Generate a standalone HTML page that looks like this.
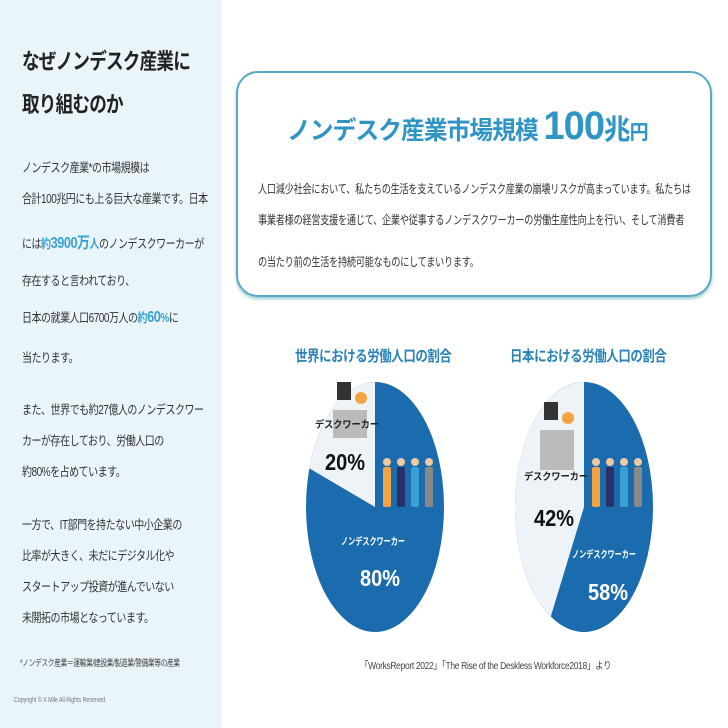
<!DOCTYPE html>
<html><head><meta charset="utf-8">
<style>
body{margin:0;width:728px;height:728px;overflow:hidden;background:#fff;font-family:"Liberation Sans","Noto Sans CJK JP",sans-serif;position:relative}
.abs{position:absolute;white-space:nowrap;transform-origin:0 0}
#left{position:absolute;left:0;top:0;width:222px;height:728px;background:#e9f4fb}
.h1{font-size:22px;font-weight:bold;color:#222;letter-spacing:-1px;transform:scaleX(0.8)}
.p{font-size:12.5px;color:#333;letter-spacing:-0.6px;transform:scaleX(0.8)}
.cp{font-size:12px;color:#333;letter-spacing:-0.3px;transform:scaleX(0.76)}
.hl{color:#3aa2d2;font-weight:bold}
#box{position:absolute;left:236px;top:71px;width:472px;height:222px;border:2px solid #5aa7c6;border-radius:22px;box-shadow:0 2px 3px #9cc}
</style></head><body>
<div id="left"></div>
<div class="abs h1" style="left:22px;top:44px">なぜノンデスク産業に</div>
<div class="abs h1" style="left:22px;top:87px">取り組むのか</div>
<div class="abs p" style="left:22px;top:157px">ノンデスク産業*の市場規模は</div>
<div class="abs p" style="left:22px;top:188px">合計100兆円にも上る巨大な産業です。日本</div>
<div class="abs p" style="left:22px;top:229px">には<span class="hl">約<span style="font-size:16px">3900万</span>人</span>のノンデスクワーカーが</div>
<div class="abs p" style="left:22px;top:270px">存在すると言われており、</div>
<div class="abs p" style="left:22px;top:307px">日本の就業人口6700万人の<span class="hl">約<span style="font-size:16px">60</span>%</span>に</div>
<div class="abs p" style="left:22px;top:347px">当たります。</div>
<div class="abs p" style="left:22px;top:399px">また、世界でも約27億人のノンデスクワー</div>
<div class="abs p" style="left:22px;top:430px">カーが存在しており、労働人口の</div>
<div class="abs p" style="left:22px;top:461px">約80%を占めています。</div>
<div class="abs p" style="left:22px;top:514px">一方で、IT部門を持たない中小企業の</div>
<div class="abs p" style="left:22px;top:545px">比率が大きく、未だにデジタル化や</div>
<div class="abs p" style="left:22px;top:576px">スタートアップ投資が進んでいない</div>
<div class="abs p" style="left:22px;top:607px">未開拓の市場となっています。</div>
<div class="abs" style="left:20px;top:656px;font-size:9px;color:#444;letter-spacing:-0.5px;transform:scaleX(0.75)">*ノンデスク産業＝運輸業/建設業/製造業/警備業等の産業</div>
<div class="abs" style="left:14px;top:697px;font-size:7px;color:#777;transform:scaleX(0.75)">Copyright © X Mile All Rights Reserved.</div>

<div id="box"></div>
<div class="abs" style="left:287px;top:104px;color:#2f95c4;font-weight:bold;font-size:25px;letter-spacing:-1px;transform:scaleX(0.95)">ノンデスク産業市場規模 <span style="font-size:40px">100</span><span style="font-size:28px">兆</span><span style="font-size:20px">円</span></div>
<div class="abs cp" style="left:258px;top:180px">人口減少社会において、私たちの生活を支えているノンデスク産業の崩壊リスクが高まっています。私たちは</div>
<div class="abs cp" style="left:258px;top:211px">事業者様の経営支援を通じて、企業や従事するノンデスクワーカーの労働生産性向上を行い、そして消費者</div>
<div class="abs cp" style="left:258px;top:253px">の当たり前の生活を持続可能なものにしてまいります。</div>

<div class="abs" style="left:295px;top:345px;font-size:15px;font-weight:bold;color:#2a82b8;letter-spacing:-0.5px;transform:scaleX(0.83)">世界における労働人口の割合</div>
<div class="abs" style="left:510px;top:345px;font-size:15px;font-weight:bold;color:#2a82b8;letter-spacing:-0.5px;transform:scaleX(0.83)">日本における労働人口の割合</div>

<svg id="pies" width="728" height="728" style="position:absolute;left:0;top:0"></svg>
<div class="abs" style="left:360px;top:657px;font-size:10px;color:#444;letter-spacing:-0.4px;transform:scaleX(0.85)">「WorksReport 2022」「The Rise of the Deskless Workforce2018」より</div>

<script>
const pieNames=["world","japan"];
const deskShares=[20,42];
const nonDeskShares=[80,58];
const centersX=[375,584];
const NS="http://www.w3.org/2000/svg";
const svg=document.getElementById('pies');
const cy=507,rx=69,ry=125;
function mk(t,a){const e=document.createElementNS(NS,t);for(const k in a)e.setAttribute(k,a[k]);svg.appendChild(e);return e;}
function pt(cx,ang){return [cx+rx*Math.sin(ang),cy-ry*Math.cos(ang)];}
pieNames.forEach((n,i)=>{
  const cx=centersX[i],tot=deskShares[i]+nonDeskShares[i];
  const a=deskShares[i]/tot*2*Math.PI;
  const bg=mk('ellipse',{cx:cx,cy:cy,rx:rx,ry:ry,fill:'#1a6cae'});
  
  
  const p=pt(cx,-a);
  const s=mk('path',{d:`M${cx},${cy} L${cx},${cy-ry} A${rx},${ry} 0 ${a>Math.PI?1:0} 0 ${p[0]},${p[1]} Z`,fill:'#eef3f8'});
  
  
  const dx=cx-(i?40:38),dy=i?430:410;
  mk('rect',{x:dx-4,y:dy,width:34,height:i?40:28,fill:'#bbb'});
  mk('rect',{x:dx,y:dy-28,width:14,height:18,fill:'#333'});
  mk('circle',{cx:dx+24,cy:dy-12,r:6,fill:'#f5a340'});
  const cols=['#f4a340','#2a2f6a','#3aa0d8','#888'];
  cols.forEach((c,k)=>{const wx=cx+12+k*14;mk('circle',{cx:wx,cy:462,r:4,fill:'#f1c9a0'});mk('rect',{x:wx-4,y:467,width:8,height:40,fill:c,rx:2});});
  const lab=[[cx-28,i?480:428,'デスクワーカー','#222',10],[cx-30,i?526:470,deskShares[i]+'%','#111',23],[cx+(i?20:-2),i?558:545,'ノンデスクワーカー','#fff',10],[cx+(i?24:5),i?600:586,nonDeskShares[i]+'%','#fff',23]];
  lab.forEach((l,k)=>{const t=mk('text',{x:l[0],y:l[1],'text-anchor':'middle',fill:l[3],'font-size':l[4],'font-weight':'bold','font-family':'"Liberation Sans","Noto Sans CJK JP",sans-serif',textLength:l[4]>20?40:64,lengthAdjust:'spacingAndGlyphs'});t.textContent=l[2];
    
    });
});
</script>
</body></html>
